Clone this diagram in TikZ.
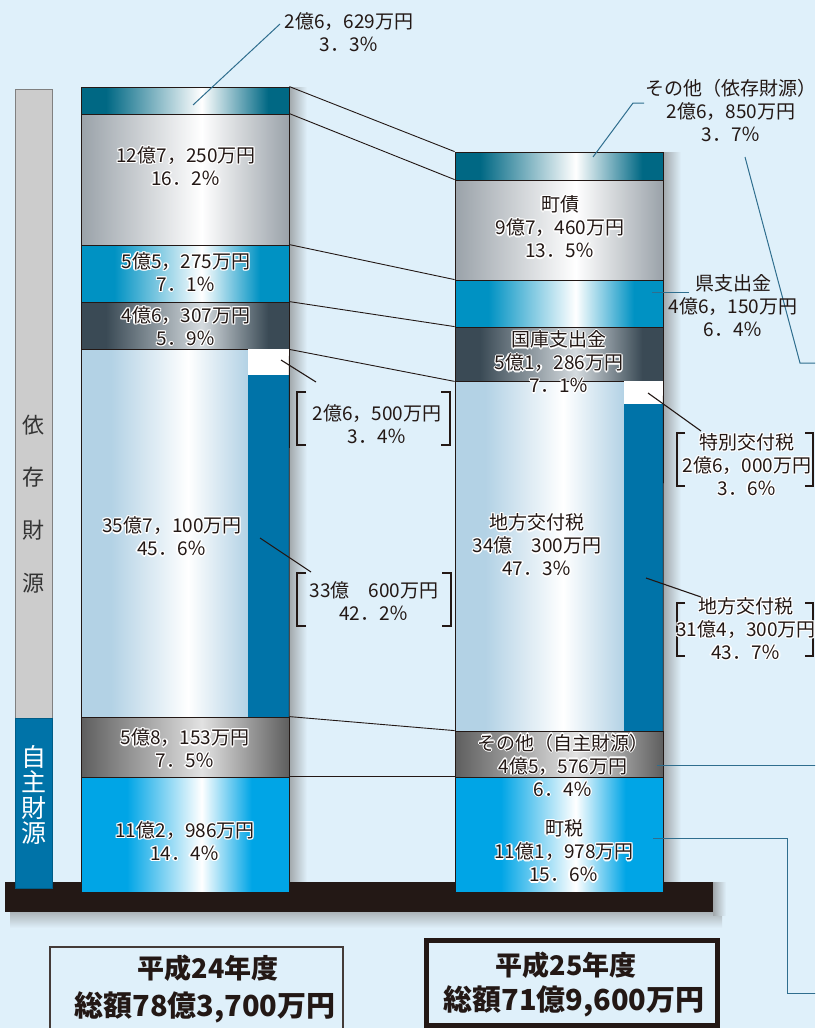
\documentclass[tikz,border=0pt]{standalone}
\usepackage{fontspec}
\setmainfont{Noto Sans CJK JP}
\definecolor{bg}{HTML}{DFF0FA}
\definecolor{cTeal}{HTML}{006884}
\definecolor{cGray}{HTML}{9AA2A9}
\definecolor{cBlue}{HTML}{0092C3}
\definecolor{cSlate}{HTML}{3A4A55}
\definecolor{cSlateM}{HTML}{D5DBDF}
\definecolor{cLight}{HTML}{B3D2E5}
\definecolor{cGrey}{HTML}{5E5E5E}
\definecolor{cGreyM}{HTML}{E2E2E2}
\definecolor{cBright}{HTML}{00A5E6}
\definecolor{cBar}{HTML}{0073A8}
\definecolor{cSide}{HTML}{CCCCCC}
\definecolor{cBase}{HTML}{231815}
\definecolor{cText}{HTML}{231815}
\definecolor{cCall}{HTML}{2F6E8E}
\pgfdeclarehorizontalshading{shTeal}{100bp}{color(0bp)=(cTeal); color(25bp)=(cTeal); color(31bp)=(cTeal); color(54bp)=(white); color(70bp)=(cTeal); color(100bp)=(cTeal)}
\pgfdeclarehorizontalshading{shGray}{100bp}{color(0bp)=(cGray); color(25bp)=(cGray); color(54bp)=(white); color(75bp)=(cGray); color(100bp)=(cGray)}
\pgfdeclarehorizontalshading{shBlue}{100bp}{color(0bp)=(cBlue); color(25bp)=(cBlue); color(33bp)=(cBlue); color(54bp)=(white); color(68bp)=(cBlue); color(100bp)=(cBlue)}
\pgfdeclarehorizontalshading{shSlate}{100bp}{color(0bp)=(cSlate); color(25bp)=(cSlate); color(31bp)=(cSlate); color(54bp)=(cSlateM); color(70bp)=(cSlate); color(100bp)=(cSlate)}
\pgfdeclarehorizontalshading{shLight}{100bp}{color(0bp)=(cLight); color(25bp)=(cLight); color(34bp)=(cLight); color(57bp)=(white); color(75bp)=(cLight); color(100bp)=(cLight)}
\pgfdeclarehorizontalshading{shGrey}{100bp}{color(0bp)=(cGrey); color(25bp)=(cGrey); color(54bp)=(cGreyM); color(75bp)=(cGrey); color(100bp)=(cGrey)}
\pgfdeclarehorizontalshading{shBright}{100bp}{color(0bp)=(cBright); color(25bp)=(cBright); color(36bp)=(cBright); color(54bp)=(white); color(66bp)=(cBright); color(100bp)=(cBright)}
\newcommand\hlxx[3]{\rlap{\kern#1\raisebox{#2}{\textcolor{white}{#3}}}}
\newcommand\hlt[1]{\leavevmode\hlxx{-1.3pt}{0pt}{#1}\hlxx{1.3pt}{0pt}{#1}\hlxx{0pt}{1.3pt}{#1}\hlxx{0pt}{-1.3pt}{#1}\hlxx{-0.9pt}{0.9pt}{#1}\hlxx{0.9pt}{0.9pt}{#1}\hlxx{-0.9pt}{-0.9pt}{#1}\hlxx{0.9pt}{-0.9pt}{#1}#1}
\begin{document}
\begin{tikzpicture}[x=1pt,y=-1pt,
  seg/.style={draw=cText, line width=0.8pt, shade, inner sep=0pt, minimum width=208pt},
  ctext/.style={align=center, text=cText, font=\fontsize{19}{23}\selectfont, inner sep=0pt},
  conn/.style={draw=cText, line width=0.9pt},
  tl/.style={draw=cCall, line width=1pt},
  bl/.style={draw=cText, line width=1.1pt},
  brk/.style={draw=cText, line width=2.6pt},
  btext/.style={text=cText, font=\bfseries\fontsize{29}{30}\selectfont, inner sep=0pt}]
\useasboundingbox (0,0) rectangle (815,1028);
\clip (0,0) rectangle (815,1028);
\fill[bg] (0,0) rectangle (815,1028);
% shadows
\shade[top color=gray!60!bg, bottom color=bg] (10,910) rectangle (722,928);
\shade[left color=gray!65!bg, right color=bg] (289,87) rectangle (307,882);
\shade[left color=gray!65!bg, right color=bg] (663,152) rectangle (681,882);
\shade[left color=gray!65!bg, right color=bg] (713,882) rectangle (726,915);
% base
\node[fill=cBase, minimum width=708pt, minimum height=30pt, inner sep=0pt] (base) at (359,897) {};
% side bar
\node[draw=gray, line width=0.8pt, fill=cSide, minimum width=37pt, minimum height=629pt, inner sep=0pt] (SG) at (33.5,403.5) {};
\node[draw=cBar!80!black, line width=0.8pt, fill=cBar, minimum width=37pt, minimum height=170pt, inner sep=0pt] (SB) at (33.5,803) {};
\node[align=center, text=black!80, font=\fontsize{22}{52.7}\selectfont, inner sep=0pt] (SGt) at (33.5,504) {依\\存\\財\\源};
\node[align=center, text=white, font=\fontsize{25}{25.5}\selectfont, inner sep=0pt] (SBt) at (33.5,795) {自\\主\\財\\源};
% left column
\node[seg, shading=shTeal, minimum height=27pt] (L1) at (185,100.5) {};
\node[seg, shading=shGray, minimum height=131pt] (L2) at (185,179.5) {};
\node[seg, shading=shBlue, minimum height=57pt] (L3) at (185,273.5) {};
\node[seg, shading=shSlate, minimum height=47pt] (L4) at (185,325.5) {};
\node[seg, shading=shLight, minimum width=167pt, minimum height=368pt] (L5) at (164.5,533) {};
\node[fill=white, inner sep=0pt, minimum width=41pt, minimum height=26pt] (L5w) at (268.5,362) {};
\node[fill=cBar, inner sep=0pt, minimum width=41pt, minimum height=342pt] (L5d) at (268.5,546) {};
\draw[cText, line width=0.8pt] (L4.south east) -- (L5d.south east);
\node[seg, shading=shGrey, minimum height=60pt] (L6) at (185,747) {};
\node[seg, shading=shBright, minimum height=115pt] (L7) at (185,834.5) {};
% right column
\node[seg, shading=shTeal, minimum height=28pt] (R1) at (559,166) {};
\node[seg, shading=shGray, minimum height=100pt] (R2) at (559,230) {};
\node[seg, shading=shBlue, minimum height=47pt] (R3) at (559,303.5) {};
\node[seg, shading=shSlate, minimum height=54pt] (R4) at (559,354) {};
\node[seg, shading=shLight, minimum width=169pt, minimum height=350pt] (R5) at (539.5,556) {};
\node[fill=white, inner sep=0pt, minimum width=39pt, minimum height=23pt] (R5w) at (643.5,392.5) {};
\node[fill=cBar, inner sep=0pt, minimum width=39pt, minimum height=327pt] (R5d) at (643.5,567.5) {};
\draw[cText, line width=0.8pt] (R4.south east) -- (R5d.south east);
\node[seg, shading=shGrey, minimum height=46pt] (R6) at (559,754) {};
\node[seg, shading=shBright, minimum height=115pt] (R7) at (559,834.5) {};
% connectors between columns
\draw[conn] (L1.north east) -- (R1.north west);
\draw[conn] (L2.north east) -- (R2.north west);
\draw[conn] (L3.north east) -- (R3.north west);
\draw[conn] (L4.north east) -- (R4.north west);
\draw[conn] (L4.south east) -- (R4.south west);
\draw[conn] (L6.north east) -- (R6.north west);
\draw[conn] (L7.north east) -- (R7.north west);
% column texts
\node[ctext] (LT2) at (186,166) {\hlt{12億7，250万円}\\\hlt{16．2％}};
\node[ctext] (LT3) at (186,272) {\hlt{5億5，275万円}\\\hlt{7．1％}};
\node[ctext] (LT4) at (186,326) {\hlt{4億6，307万円}\\\hlt{5．9％}};
\node[ctext] (LT5) at (172,536.5) {\hlt{35億7，100万円}\\\hlt{45．6％}};
\node[ctext] (LT6) at (185,748.5) {\hlt{5億8，153万円}\\\hlt{7．5％}};
\node[ctext] (LT7) at (185,841) {\hlt{11億2，986万円}\\\hlt{14．4％}};
\node[ctext] (RT2) at (560,227) {\hlt{町債}\\\hlt{9億7，460万円}\\\hlt{13．5％}};
\node[ctext] (RT4) at (559,362) {\hlt{国庫支出金}\\\hlt{5億1，286万円}\\\hlt{7．1％}};
\node[ctext] (RT5) at (537,545) {\hlt{地方交付税}\\\hlt{34億　300万円}\\\hlt{47．3％}};
\node[ctext] (RT6) at (563,765) {\hlt{その他（自主財源）}\\\hlt{4億5，576万円}\\\hlt{6．4％}};
\node[ctext] (RT7) at (564,851) {\hlt{町税}\\\hlt{11億1，978万円}\\\hlt{15．6％}};
% callouts
\node[ctext] (CT1) at (349,32) {2億6，629万円\\3．3％};
\coordinate (c1a) at (280,24);
\coordinate (c1b) at (193,105);
\draw[tl] (c1a) -- (c1b);
\node[ctext] (CR1) at (731,110) {その他（依存財源）\\2億6，850万円\\3．7％};
\coordinate (c2a) at (644,103);
\coordinate (c2b) at (593,157);
\draw[tl] (c2a) -- (633,103) -- (c2b);
\coordinate (c3a) at (745,157);
\coordinate (c3b) at (816,363);
\draw[tl] (c3a) -- (800,363) -- (c3b);
\node[ctext] (CR3) at (733,306) {県支出金\\4億6，150万円\\6．4％};
\coordinate (c4a) at (652,292);
\coordinate (c4b) at (689,292);
\draw[tl] (c4a) -- (c4b);
\coordinate (c5a) at (657,765);
\coordinate (c5b) at (816,765);
\draw[tl] (c5a) -- (c5b);
\coordinate (c6a) at (653,838);
\coordinate (c6b) at (816,993);
\draw[tl] (c6a) -- (787,838) -- (787,993) -- (c6b);
% bracket labels
\node[ctext] (BL1) at (377,424) {2億6，500万円\\3．4％};
\draw[brk] (306,392) -- (297,392) -- (297,445) -- (306,445);
\draw[brk] (441,392) -- (450,392) -- (450,445) -- (441,445);
\coordinate (b1a) at (281,360);
\coordinate (b1b) at (316,382);
\draw[bl] (b1a) -- (b1b);
\node[ctext] (BL2) at (374,601) {33億　600万円\\42．2％};
\draw[brk] (306,573) -- (297,573) -- (297,626) -- (306,626);
\draw[brk] (442,573) -- (451,573) -- (451,626) -- (442,626);
\coordinate (b2a) at (260,538);
\coordinate (b2b) at (311,572);
\draw[bl] (b2a) -- (b2b);
\draw[brk] (685,433) -- (677,433) -- (677,486) -- (685,486);
\draw[brk] (805,433) -- (813,433) -- (813,486) -- (805,486);
\node[ctext] (BR1) at (747,464.5) {\hlt{特別交付税}\\\hlt{2億6，000万円}\\\hlt{3．6％}};
\coordinate (b3a) at (648,393);
\coordinate (b3b) at (701,431);
\draw[bl] (b3a) -- (b3b);
\draw[brk] (685,603) -- (677,603) -- (677,656) -- (685,656);
\draw[brk] (805,603) -- (813,603) -- (813,656) -- (805,656);
\node[ctext] (BR2) at (746,628.5) {\hlt{地方交付税}\\\hlt{31億4，300万円}\\\hlt{43．7％}};
\coordinate (b4a) at (646,578);
\coordinate (b4b) at (701,597);
\draw[bl] (b4a) -- (b4b);
% year boxes
\node[draw=cText!85, line width=1.5pt, minimum width=293pt, minimum height=90pt, inner sep=0pt] (Y24) at (196.5,992) {};
\node[btext, font=\bfseries\fontsize{27}{30}\selectfont] (Y24a) at (208,968) {平成24年度};
\node[btext] (Y24b) at (205,1007) {総額78億3,700万円};
\node[draw=cText, line width=5pt, minimum width=291pt, minimum height=85pt, inner sep=0pt] (Y25) at (572,983) {};
\node[btext, font=\bfseries\fontsize{27}{30}\selectfont] (Y25a) at (566,965) {平成25年度};
\node[btext] (Y25b) at (574,1001) {総額71億9,600万円};
\end{tikzpicture}
\end{document}
